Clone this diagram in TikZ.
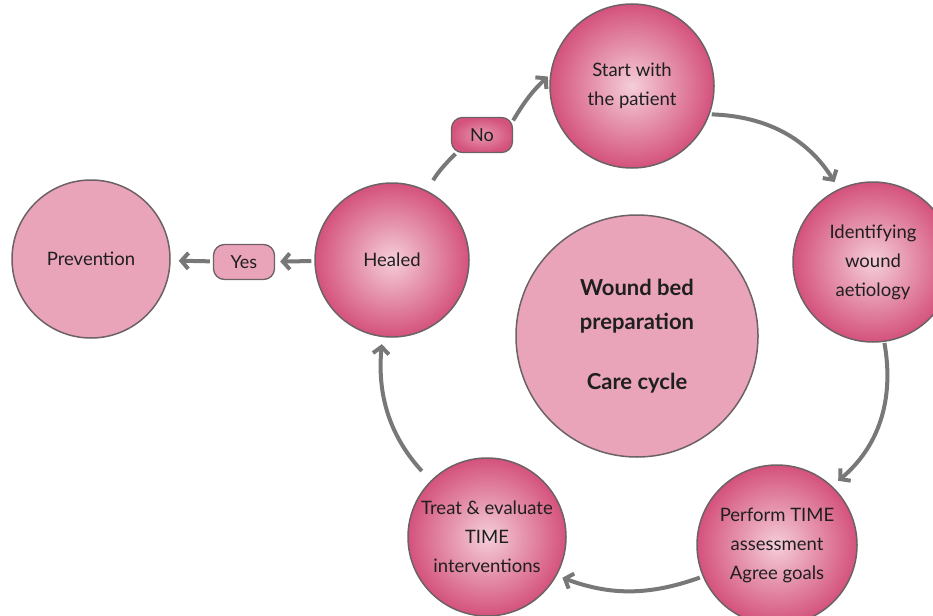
\documentclass[tikz,border=0pt]{standalone}
\usepackage{fontspec}
\setmainfont{Lato}
\usetikzlibrary{positioning, arrows.meta}

\definecolor{rosedeep}{RGB}{212,82,124}
\definecolor{rosepale}{RGB}{245,206,218}
\definecolor{roseflat}{RGB}{233,164,186}
\definecolor{rim}{RGB}{108,98,102}
\definecolor{flowgray}{RGB}{120,120,120}

\begin{document}
\begin{tikzpicture}[x=1pt, y=-1pt,
   stage/.style={circle, draw=rim, line width=1.5pt, inner color=rosepale, outer color=rosedeep,
      minimum size=160pt, inner sep=0pt, align=center, text=black!88,
      font=\fontsize{18.5}{29}\selectfont},
   flatstage/.style={stage, fill=roseflat, inner color=roseflat, outer color=roseflat},
   tag/.style={rounded corners=11pt, draw=rim, line width=1.3pt, minimum width=61pt,
      minimum height=35pt, inner sep=0pt, text=black!88, font=\fontsize{18}{20}\selectfont},
   flow/.style={draw=flowgray, line width=4pt, -{Straight Barb[length=7pt, width=16pt]}}]
   \useasboundingbox (0,0) rectangle (933,615);

   % Care cycle
   \node[flatstage, minimum size=242pt, font=\fontsize{22}{34}\selectfont\bfseries] (core) at (637,336)
      {Wound bed\\preparation\\[26pt]Care cycle};
   \node[stage, minimum size=164pt] (start) at (632,86) {Start with\\the patient};
   \node[stage] (ident) at (873,262) {Identifying\\wound\\aetiology};
   \node[stage] (perform) at (777,545) {Perform TIME\\assessment\\Agree goals};
   \node[stage, minimum size=158pt] (treat) at (487,537) {Treat \& evaluate\\TIME\\interventions};
   \node[stage, minimum size=154pt] (healed) at (392,260) {Healed};

   % Outcome
   \node[flatstage, minimum size=158pt] (prevention) at (91,259) {Prevention};
   \node[tag, fill=roseflat] (yes) at (244,262) {Yes};
   \node[tag, inner color=rosepale!55!rosedeep, outer color=rosedeep] (no) at (482,135) {No};

   % Transitions
   \draw[flow, shorten <=2pt, shorten >=8pt] (start.-20) to[bend left=28] (ident.115);
   \draw[flow, shorten <=1pt, shorten >=8pt] (ident.-82) to[bend left=30] (perform.47);
   \draw[flow, shorten <=3pt, shorten >=6pt] (perform.203) to[bend left=20] (treat.-29);
   \draw[flow, shorten <=13pt, shorten >=7pt] (treat.135) to[bend left=24] (healed.-97);
   \draw[flow, -, shorten <=12pt, shorten >=1pt] (healed.63) to[bend left=8] (no.215);
   \draw[flow, shorten >=3pt] (no.25) to[bend left=8] (start.172);
   \draw[flow, shorten <=3pt, shorten >=5pt] (healed) -- (yes);
   \draw[flow, shorten <=3pt, shorten >=8pt] (yes) -- (prevention);
\end{tikzpicture}
\end{document}
